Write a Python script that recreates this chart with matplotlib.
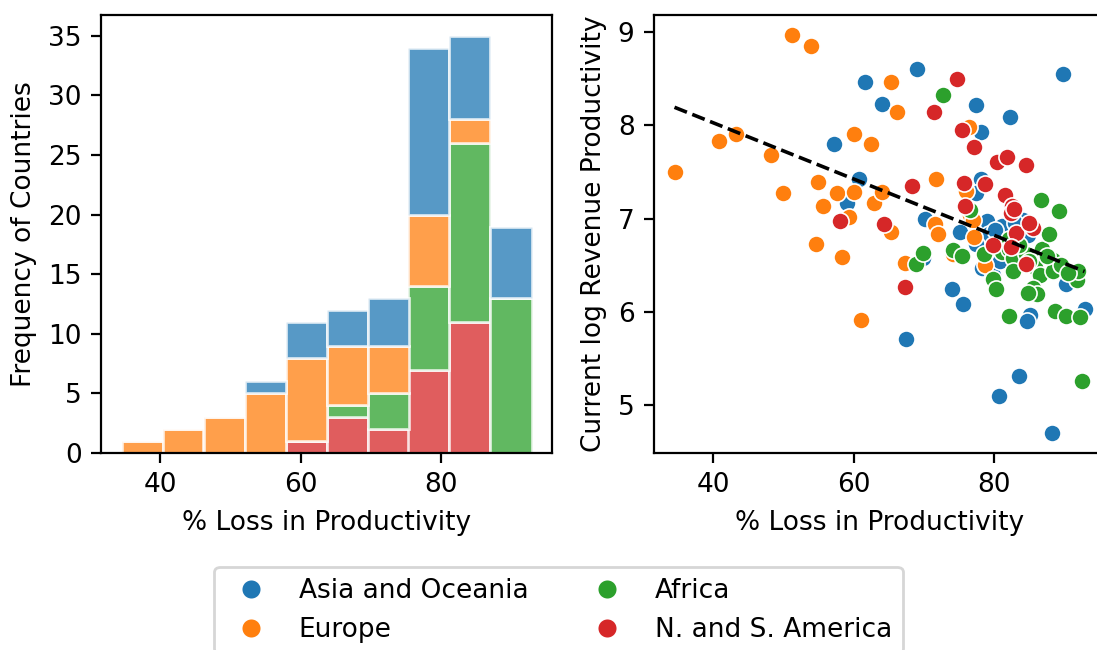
import numpy as np
import matplotlib.pyplot as plt
from matplotlib.lines import Line2D

plt.rcParams['font.size'] = 9.5

regions = ['Asia and Oceania', 'Europe', 'Africa', 'N. and S. America']
colors = ['#1f77b4', '#ff7f0e', '#2ca02c', '#d62728']

# % loss in productivity / current log revenue productivity, per region
asia_x = [57.2, 61.7, 60.8, 59.1, 69.1, 64.0, 67.5, 70.2, 75.2, 69.9, 74.0, 77.4, 78.2,
          78.2, 77.5, 79.0, 81.1, 79.3, 77.4, 78.3, 79.8, 80.7, 75.6, 80.2, 80.9, 82.3,
          84.2, 84.9, 83.5, 85.2, 84.7, 83.0, 89.8, 88.2, 92.9, 90.2, 89.1, 88.6]
asia_y = [7.80, 8.46, 7.43, 7.17, 8.60, 8.23, 5.71, 7.00, 6.86, 6.58, 6.25, 8.22, 7.93,
          7.42, 7.28, 6.97, 6.92, 6.83, 6.73, 6.47, 6.40, 5.10, 6.08, 6.88, 6.55, 8.09,
          6.99, 6.82, 5.31, 5.97, 5.90, 6.95, 8.55, 4.70, 6.03, 6.30, 6.52, 6.56]

europe_x = [34.5, 40.8, 43.2, 48.3, 49.9, 51.3, 54.0, 55.0, 55.7, 54.6, 57.6, 60.1, 62.5,
            60.1, 59.3, 62.9, 58.3, 61.1, 65.3, 66.2, 64.0, 65.3, 67.4, 71.7, 71.6, 72.0,
            74.1, 76.5, 76.6, 78.7, 76.0, 77.0, 77.2, 82.6, 82.4]
europe_y = [7.50, 7.83, 7.91, 7.68, 7.28, 8.97, 8.85, 7.39, 7.14, 6.73, 7.28, 7.91, 7.80,
            7.29, 7.02, 7.17, 6.59, 5.91, 8.46, 8.14, 7.29, 6.86, 6.52, 7.43, 6.94, 6.83,
            6.62, 7.98, 7.04, 6.50, 7.30, 6.98, 6.80, 7.13, 7.07]

africa_x = [68.9, 72.7, 69.9, 74.1, 76.6, 75.5, 78.6, 79.8, 80.3, 80.5, 81.1, 86.7, 82.1,
            82.1, 82.7, 82.7, 84.6, 85.9, 86.5, 86.9, 85.5, 86.1, 84.8, 82.2, 83.5, 85.0,
            89.2, 87.9, 88.4, 88.4, 88.7, 90.2, 92.3, 92.6, 91.8, 92.0, 89.5, 90.5, 87.5]
africa_y = [6.51, 8.33, 6.63, 6.66, 7.09, 6.60, 6.62, 6.35, 6.24, 6.71, 6.64, 7.20, 6.78,
            6.67, 6.58, 6.44, 6.62, 6.48, 6.40, 6.67, 6.26, 6.19, 6.20, 5.96, 6.72, 6.55,
            7.08, 6.83, 6.56, 6.44, 6.01, 5.96, 5.94, 5.26, 6.34, 6.44, 6.50, 6.42, 6.60]

america_x = [58.1, 64.4, 68.4, 67.4, 74.8, 71.5, 75.5, 77.2, 80.5, 75.8, 78.7, 75.9, 79.8,
             81.8, 84.5, 81.6, 82.6, 82.4, 85.5, 84.6, 82.8, 83.2, 85.0, 82.5]
america_y = [6.97, 6.94, 7.35, 6.27, 8.50, 8.14, 7.95, 7.77, 7.61, 7.38, 7.37, 7.13, 6.72,
             7.66, 7.58, 7.25, 7.13, 7.06, 6.90, 6.51, 7.10, 6.85, 6.95, 6.70]

xs = [np.array(asia_x), np.array(europe_x), np.array(africa_x), np.array(america_x)]
ys = [np.array(asia_y), np.array(europe_y), np.array(africa_y), np.array(america_y)]

fig = plt.figure(figsize=(5.485, 3.25), dpi=200)
ax1 = fig.add_axes([101 / 1097, 1 - 453 / 650, 451 / 1097, 438 / 650])
ax2 = fig.add_axes([654 / 1097, 1 - 453 / 650, 451 / 1097, 438 / 650])

# stacked histogram, last region at the bottom
all_x = np.concatenate(xs)
edges = np.histogram_bin_edges(all_x, bins=10)
bottom = np.zeros(len(edges) - 1)
for i in [3, 2, 1, 0]:
    counts, _ = np.histogram(xs[i], bins=edges)
    ax1.bar(edges[:-1], counts, width=np.diff(edges), bottom=bottom, align='edge',
            color=colors[i], alpha=0.75, edgecolor='white', linewidth=1)
    bottom += counts
ax1.set_xlabel('% Loss in Productivity')
ax1.set_ylabel('Frequency of Countries')
ax1.set_xticks([40, 60, 80])
ax1.set_yticks(range(0, 40, 5))

# scatter + linear fit
for i in [0, 1, 2, 3]:
    ax2.scatter(xs[i], ys[i], s=38, color=colors[i], edgecolors='white', linewidths=0.6, zorder=2)
all_y = np.concatenate(ys)
p = np.polyfit(all_x, all_y, 1)
xl = np.array([all_x.min(), all_x.max()])
ax2.plot(xl, np.polyval(p, xl), '--', color='k', lw=1.3, zorder=3)
ax2.set_xlabel('% Loss in Productivity')
ax2.set_ylabel('Current log Revenue Productivity')
ax2.set_xticks([40, 60, 80])
ax2.set_yticks([5, 6, 7, 8, 9])

handles = [Line2D([], [], marker='o', ls='', color=c, markeredgecolor='white', markersize=7.5)
           for c in colors]
fig.legend(handles, regions, ncol=2, loc='upper center',
           bbox_to_anchor=(558.5 / 1097, 1 - 554 / 650))

plt.savefig('out.png', dpi=200)
